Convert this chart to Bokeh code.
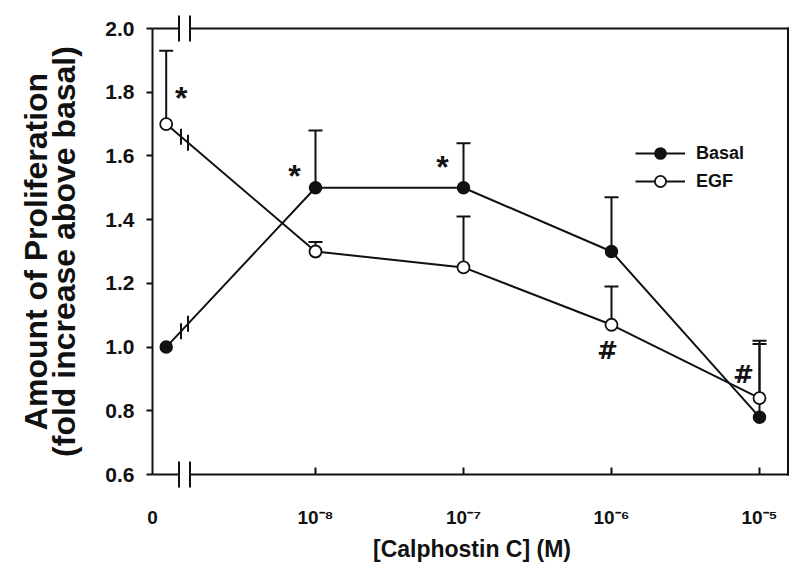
import numpy as np
from bokeh.plotting import figure
from bokeh.models import (Range1d, FixedTicker, PrintfTickFormatter, Whisker, TeeHead,
                          ColumnDataSource, Legend, LegendItem)
from bokeh.core.properties import value
from bokeh.embed import file_html
from bokeh.resources import INLINE

# ---------------- data ----------------
concentration = [0.0, 1e-8, 1e-7, 1e-6, 1e-5]          # [Calphostin C] (M)
basal_mean = [1.00, 1.50, 1.50, 1.30, 0.78]
basal_err_top = [None, 1.68, 1.64, 1.47, 1.02]
egf_mean = [1.70, 1.30, 1.25, 1.07, 0.84]
egf_err_top = [1.93, 1.33, 1.41, 1.19, 1.01]
x_tick_exponents = [-8, -7, -6, -5]
x_tick_labels = ["10\u207b\u2078", "10\u207b\u2077", "10\u207b\u2076", "10\u207b\u2075"]
zero_tick_label = "0"
y_ticks = [0.6, 0.8, 1.0, 1.2, 1.4, 1.6, 1.8, 2.0]
y_label = "Amount of Proliferation\n(fold increase above basal)"
x_label = "[Calphostin C] (M)"
series_names = ["Basal", "EGF"]
# significance marks: (symbol, series, point index)
sig_marks = [("*", "EGF", 0), ("*", "Basal", 1), ("*", "Basal", 2), ("#", "EGF", 3), ("#", "EGF", 4)]

# ---------------- layout / style constants ----------------
FONT = "Liberation Sans"
INK = "#111111"
PX_DEC = 148.0                 # pixels per decade on x
PX_UNIT = 446.0 / 1.4          # pixels per unit on y
Y_LO, Y_HI = 0.6, 2.0
Y_PAD = 15.0 / PX_UNIT
X_START = -8.0 - 163.0 / PX_DEC
FRAME_W = 639
X_END = X_START + FRAME_W / PX_DEC
ZERO_POS = -8.0 - 149.3 / PX_DEC      # where concentration 0 is drawn
BREAK_C = -8.0 - 131.0 / PX_DEC       # axis break centre
AXIS_HALF = 5.5 / PX_DEC
LINE_HALF = 3.5 / PX_DEC
RIGHT_SPINE = -5.0 + 28.5 / PX_DEC
BRK_LEN = 13.0 / PX_UNIT
LINE_BRK_LEN = 8.0 / PX_UNIT
XTICK_LEN = 7.0 / PX_UNIT
# offsets (px) of significance marks from their data point: dx right, dy down
sig_offsets = [(15, -26), (-21, -12), (-21, -21), (-4, 26), (-16, -24)]
sig_fonts = {"*": "Liberation Sans", "#": "DejaVu Sans"}
sig_sizes = {"*": "32px", "#": "25px"}


def xpos(c):
    return ZERO_POS if c == 0 else float(np.log10(c))


xs = [xpos(c) for c in concentration]

p = figure(width=800, height=565,
           x_range=Range1d(X_START, X_END),
           y_range=Range1d(Y_LO - Y_PAD, Y_HI + Y_PAD),
           output_backend="svg", toolbar_location=None,
           min_border_left=152, min_border_right=9, min_border_top=13, min_border_bottom=76)
p.outline_line_color = None
p.xgrid.visible = False
p.ygrid.visible = False

# y axis
ya = p.yaxis[0]
ya.bounds = (Y_LO, Y_HI)
ya.ticker = FixedTicker(ticks=y_ticks, minor_ticks=[])
ya.formatter = PrintfTickFormatter(format="%.1f")
ya.axis_line_width = 2
ya.axis_line_color = INK
ya.major_tick_line_width = 2
ya.major_tick_line_color = INK
ya.major_tick_in = 0
ya.major_tick_out = 6
ya.minor_tick_line_color = None
ya.major_label_standoff = 12
ya.major_label_text_font = FONT
ya.major_label_text_font_style = "bold"
ya.major_label_text_font_size = "21px"
ya.major_label_text_color = INK
ya.axis_label = y_label
ya.axis_label_standoff = 20
ya.axis_label_text_font = FONT
ya.axis_label_text_font_style = "bold"
ya.axis_label_text_font_size = "32px"
ya.axis_label_text_line_height = 0.78
ya.axis_label_text_color = INK

# x axis: labels only (its line sits below the spine; spine and ticks drawn on the frame)
zero_tick = X_START + 0.001
xa = p.xaxis[0]
xa.ticker = FixedTicker(ticks=[zero_tick] + x_tick_exponents, minor_ticks=[])
overrides = {t: l for t, l in zip(x_tick_exponents, x_tick_labels)}
overrides[zero_tick] = zero_tick_label
xa.major_label_overrides = overrides
xa.axis_line_color = None
xa.major_tick_line_color = None
xa.minor_tick_line_color = None
xa.major_tick_in = 0
xa.major_tick_out = 0
xa.major_label_standoff = 17
xa.major_label_text_font = FONT
xa.major_label_text_font_style = "bold"
xa.major_label_text_font_size = "19px"
xa.major_label_text_color = INK
xa.axis_label = x_label
xa.axis_label_standoff = 5
xa.axis_label_text_font = FONT
xa.axis_label_text_font_style = "bold"
xa.axis_label_text_font_size = "23px"
xa.axis_label_text_color = INK

# spines with breaks
sx0 = [X_START - 0.02, BREAK_C + AXIS_HALF, X_START - 0.02, BREAK_C + AXIS_HALF, RIGHT_SPINE]
sx1 = [BREAK_C - AXIS_HALF, RIGHT_SPINE, BREAK_C - AXIS_HALF, RIGHT_SPINE, RIGHT_SPINE]
sy0 = [Y_LO, Y_LO, Y_HI, Y_HI, Y_LO]
sy1 = [Y_LO, Y_LO, Y_HI, Y_HI, Y_HI]
p.segment(sx0, sy0, sx1, sy1, line_width=2, line_color=INK, line_cap="square")
# axis break marks
bx = [BREAK_C - AXIS_HALF, BREAK_C + AXIS_HALF] * 2
by = [Y_LO, Y_LO, Y_HI, Y_HI]
p.segment(bx, [v - BRK_LEN for v in by], bx, [v + BRK_LEN for v in by],
          line_width=2, line_color=INK)
# x ticks (pointing into the plot from the bottom spine)
p.segment(x_tick_exponents, [Y_LO] * len(x_tick_exponents),
          x_tick_exponents, [Y_LO + XTICK_LEN] * len(x_tick_exponents),
          line_width=2, line_color=INK)

# error bars (upper only)
for means, tops in [(basal_mean, basal_err_top), (egf_mean, egf_err_top)]:
    keep = [i for i, t in enumerate(tops) if t is not None]
    src = ColumnDataSource(dict(base=[xs[i] for i in keep],
                                lower=[means[i] for i in keep],
                                upper=[tops[i] for i in keep]))
    w = Whisker(source=src, base="base", lower="lower", upper="upper", dimension="height",
                lower_head=None,
                upper_head=TeeHead(size=14, line_width=2, line_color=INK),
                line_width=2, line_color=INK, level="underlay")
    p.add_layout(w)

# data lines
basal_line = p.line(xs, basal_mean, line_width=2, line_color=INK)
egf_line = p.line(xs, egf_mean, line_width=2, line_color=INK)

# break marks on the data lines between 0 and 1e-8
for means in [basal_mean, egf_mean]:
    mx = [BREAK_C - LINE_HALF, BREAK_C + LINE_HALF]
    my = [float(np.interp(m, xs[:2], means[:2])) for m in mx]
    p.segment(mx, [v - LINE_BRK_LEN for v in my], mx, [v + LINE_BRK_LEN for v in my],
              line_width=2, line_color=INK)

basal_pts = p.scatter(xs, basal_mean, marker="circle", size=12,
                      fill_color=INK, line_color=INK, line_width=1.5)
egf_pts = p.scatter(xs, egf_mean, marker="circle", size=12,
                    fill_color="white", line_color=INK, line_width=1.8)

# significance marks
series = {"Basal": basal_mean, "EGF": egf_mean}
for sym in ["*", "#"]:
    tx, ty, tt = [], [], []
    for (s, name, idx), (dx, dy) in zip(sig_marks, sig_offsets):
        if s != sym:
            continue
        tx.append(xs[idx] + dx / PX_DEC)
        ty.append(series[name][idx] - dy / PX_UNIT)
        tt.append(s)
    p.text(tx, ty, text=tt, text_font=value(sig_fonts[sym]), text_font_style="bold",
           text_font_size=sig_sizes[sym], text_align="center", text_baseline="middle",
           text_color=INK)

legend = Legend(items=[LegendItem(label=series_names[0], renderers=[basal_line, basal_pts]),
                       LegendItem(label=series_names[1], renderers=[egf_line, egf_pts])],
                location=(483, 294), padding=0, margin=0, spacing=0,
                glyph_width=50, glyph_height=28, label_height=28, label_standoff=11,
                border_line_color=None, background_fill_alpha=0,
                label_text_font=FONT, label_text_font_style="bold",
                label_text_font_size="18px", label_text_color=INK)
p.add_layout(legend, "center")

open("out.html", "w").write(file_html(p, INLINE))
